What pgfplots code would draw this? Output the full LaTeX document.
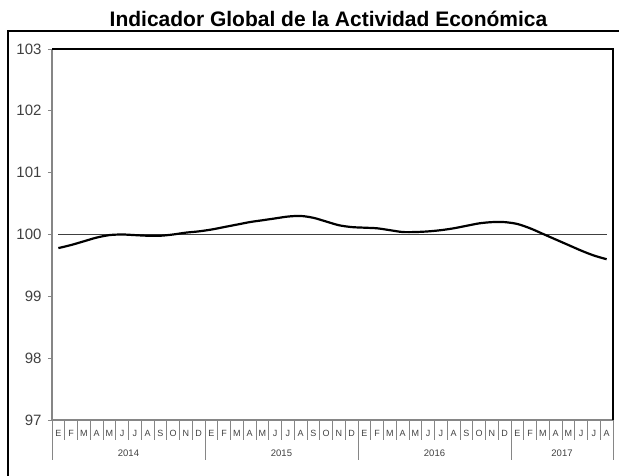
\documentclass[border=0pt]{standalone}
\usepackage{fontspec}
\setmainfont{Liberation Sans}
\usepackage{pgfplots}
\pgfplotsset{compat=1.18}
\definecolor{axgray}{RGB}{134,134,134}
\definecolor{lblgray}{RGB}{64,64,64}
\begin{document}
\begin{tikzpicture}[x=1pt,y=1pt]
\useasboundingbox (-52,-56) rectangle (567,420);
\begin{axis}[
  at={(0,0)}, anchor=south west,
  scale only axis, width=561pt, height=371pt,
  xmin=-0.5, xmax=43.5, ymin=97, ymax=103,
  axis line style={draw=none},
  xtick=\empty,
  ytick={97,98,99,100,101,102,103},
  ytick pos=left,
  tick align=outside, major tick length=4pt,
  ytick style={draw=axgray, line width=0.8pt},
  yticklabel style={font=\fontsize{15}{15}\selectfont, text=lblgray, xshift=-3pt},
  /pgf/number format/assume math mode=true,
  clip=false,
]
\addplot[draw=lblgray, line width=0.9pt] coordinates {(0,100) (43,100)};
\addplot[black, line width=2.2pt, smooth] coordinates {
(0,99.78) (1,99.83) (2,99.89) (3,99.95) (4,99.99) (5,100.00) (6,99.99) (7,99.98)
(8,99.98) (9,100.00) (10,100.03) (11,100.05) (12,100.08) (13,100.12) (14,100.16)
(15,100.20) (16,100.23) (17,100.26) (18,100.29) (19,100.30) (20,100.27) (21,100.21)
(22,100.15) (23,100.12) (24,100.11) (25,100.10) (26,100.07) (27,100.04) (28,100.04)
(29,100.05) (30,100.07) (31,100.10) (32,100.14) (33,100.18) (34,100.20) (35,100.20)
(36,100.17) (37,100.10) (38,100.01) (39,99.92) (40,99.83) (41,99.74) (42,99.66) (43,99.60)
};
\end{axis}
% plot frame
\draw[axgray, line width=1.5pt] (0,371) -- (0,0) -- (561,0);
\draw[black, line width=1.2pt] (0,371) -- (561,371) -- (561,0);
% month separators and labels
\foreach \i in {0,...,44} \draw[axgray, line width=0.8pt] ({\i*12.75},0) -- ++(0,-20);
\foreach \x in {0,12,24,36,44} \draw[axgray, line width=0.8pt] ({\x*12.75},0) -- ++(0,-40);
\foreach \m [count=\i from 0] in {E,F,M,A,M,J,J,A,S,O,N,D,E,F,M,A,M,J,J,A,S,O,N,D,E,F,M,A,M,J,J,A,S,O,N,D,E,F,M,A,M,J,J,A}
  \node[anchor=base, inner sep=0pt, text=lblgray, font=\fontsize{9}{9}\selectfont] at ({(\i+0.5)*12.75},-17) {\m};
\foreach \c/\y in {6/2014,18/2015,30/2016,40/2017}
  \node[anchor=base, inner sep=0pt, text=lblgray, font=\fontsize{9.5}{9.5}\selectfont] at ({\c*12.75},-37) {\y};
% outer frame
\draw[black, line width=1.5pt] (-44,-70) -- (-44,389) -- (600,389);
% title
\node[anchor=base, inner sep=0pt, font=\bfseries\fontsize{21}{21}\selectfont] at (276.5,393) {Indicador Global de la Actividad Económica};
\end{tikzpicture}
\end{document}
